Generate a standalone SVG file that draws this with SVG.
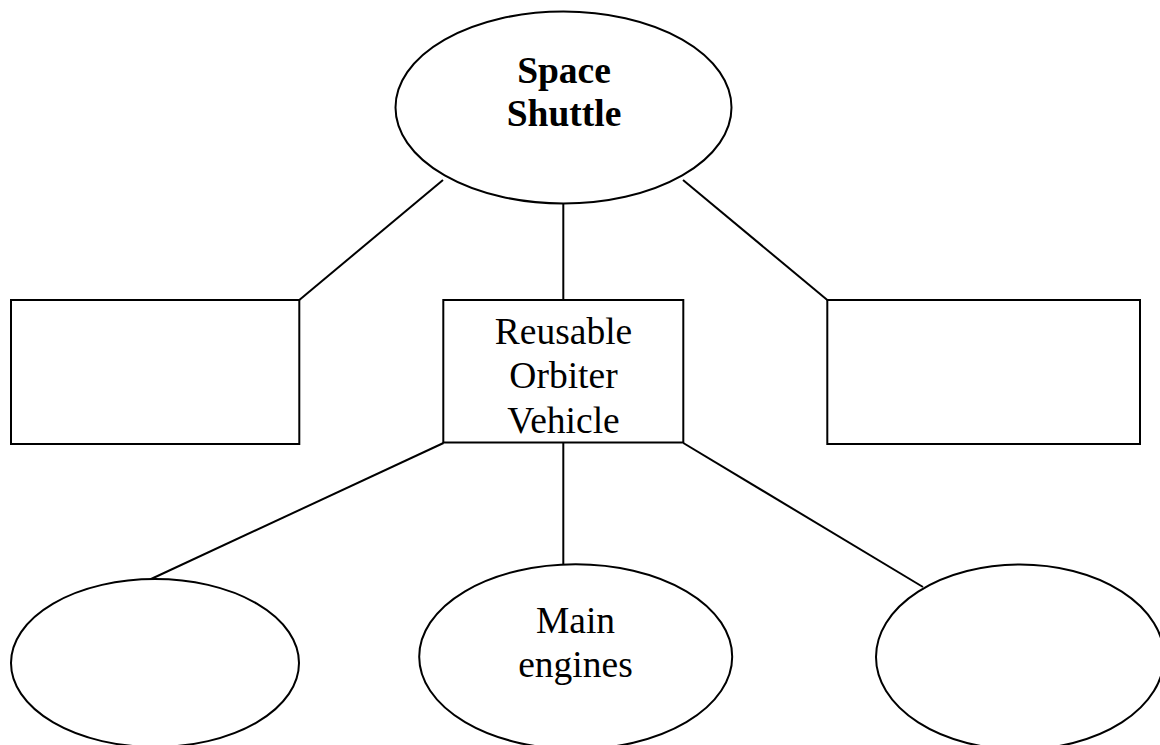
<svg xmlns="http://www.w3.org/2000/svg" width="1160" height="745" viewBox="0 0 1160 745">
<style>
.s{fill:#fff;stroke:#000;stroke-width:2}
.c line{stroke:#000;stroke-width:2}
.t{font-family:"Liberation Serif","Times New Roman",serif;font-size:37.5px;fill:#000;text-anchor:middle}
.b{font-weight:bold}
</style>
<rect width="1160" height="745" fill="#fff"/>
<g class="c" id="connectors">
<line x1="443" y1="180" x2="299.3" y2="300"/>
<line x1="563.3" y1="203" x2="563.3" y2="300"/>
<line x1="683" y1="180" x2="827.3" y2="300"/>
<line x1="443.5" y1="443" x2="150" y2="579.5"/>
<line x1="563.3" y1="443" x2="563.3" y2="564"/>
<line x1="683.3" y1="443" x2="923" y2="587"/>
</g>
<g id="space-shuttle">
<ellipse class="s" cx="563.5" cy="107.5" rx="168" ry="96"/>
<text class="t b" x="564" y="83">Space</text>
<text class="t b" x="564" y="126">Shuttle</text>
</g>
<g id="box-left">
<rect class="s" x="11" y="300" width="288.3" height="144"/>
</g>
<g id="reusable-orbiter">
<rect class="s" x="443.3" y="300" width="240" height="142.5"/>
<text class="t" x="563.5" y="344">Reusable</text>
<text class="t" x="563.5" y="388">Orbiter</text>
<text class="t" x="563.5" y="433">Vehicle</text>
</g>
<g id="box-right">
<rect class="s" x="827.3" y="300" width="312.7" height="144"/>
</g>
<g id="ellipse-left">
<ellipse class="s" cx="155" cy="663" rx="144" ry="84"/>
</g>
<g id="main-engines">
<ellipse class="s" cx="575.7" cy="656.7" rx="156.5" ry="92.5"/>
<text class="t" x="575.5" y="632.5">Main</text>
<text class="t" x="575.5" y="676.5">engines</text>
</g>
<g id="ellipse-right">
<ellipse class="s" cx="1020" cy="657" rx="144" ry="92.5"/>
</g>
</svg>
